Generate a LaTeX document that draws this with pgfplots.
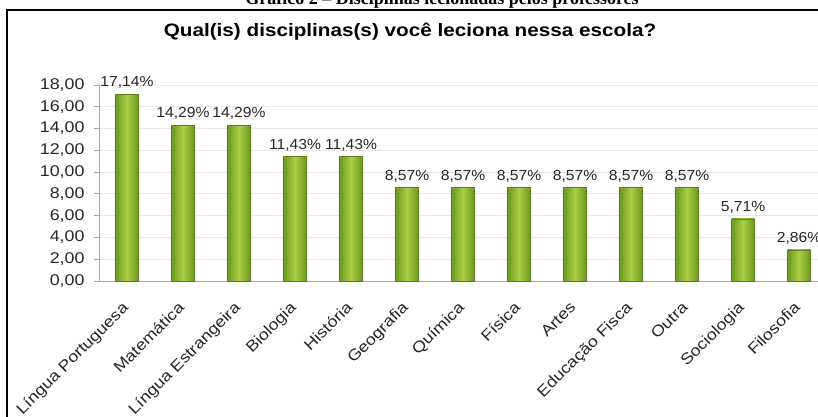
\documentclass[border=0pt]{standalone}
\usepackage{pgfplots}
\usepackage{pgfplotstable}
\pgfplotsset{compat=1.18}
\usepackage{fontspec}
\setmainfont{Liberation Sans}[FakeStretch=1.15]
\newfontfamily\capfont{Liberation Serif}
\newfontfamily\lblfont{Liberation Sans}[FakeStretch=1.08]
\definecolor{barmid}{HTML}{AAD044}
\definecolor{baredge}{HTML}{6A9620}
\definecolor{axgray}{HTML}{A8A8A8}
\definecolor{gridc}{HTML}{E8E8DE}
\pgfplotstableread{
x y
0 17.14
1 14.29
2 14.29
3 11.43
4 11.43
5 8.57
6 8.57
7 8.57
8 8.57
9 8.57
10 8.57
11 5.71
12 2.86
}\datatable
\begin{document}
\begin{tikzpicture}
\useasboundingbox (0,0) rectangle (818pt,416pt);
% caption (cut at top)
\node[anchor=base, font=\capfont\bfseries\fontsize{18}{20}\selectfont] at (442pt,411pt) {Gráfico 2 – Disciplinas lecionadas pelos professores};
% frame
\draw[line width=2pt] (7pt,-20pt) rectangle (840pt,406pt);
% title
\node[anchor=base, font=\bfseries\fontsize{18}{21}\selectfont] at (410pt,379pt) {Qual(is) disciplinas(s) você leciona nessa escola?};
\begin{axis}[
  at={(99pt,135pt)}, anchor=south west,
  scale only axis, width=728pt, height=196pt,
  xmin=-0.5, xmax=12.5, ymin=0, ymax=18,
  ybar, bar width=23pt,
  axis x line*=bottom, axis y line*=left,
  axis line style={axgray, line width=0.8pt},
  ytick={0,2,...,18},
  ymajorgrids, grid style={gridc, line width=0.8pt},
  yticklabel style={font=\fontsize{15.5}{17}\selectfont, color=black!85, xshift=-6pt},
  /pgf/number format/.cd, fixed, precision=2, fixed zerofill, use comma, assume math mode=true,
  /pgfplots/.cd,
  ytick style={axgray, line width=0.8pt},
  tick align=outside, major tick length=5pt,
  xtick={0,...,12},
  xticklabels={Língua Portuguesa, Matemática, Língua Estrangeira, Biologia, História, Geografia, Química, Física, Artes, Educação Fisca, Outra, Sociologia, Filosofia},
  x tick style={draw=none},
  minor xtick={-0.5,0.5,...,12.5},
  minor x tick style={axgray, line width=0.8pt},
  minor tick length=6pt,
  xticklabel style={xshift=-6pt, yshift=-13pt, rotate=45, anchor=north east, font=\fontsize{15.5}{17}\selectfont, color=black!85, inner sep=1pt},
  clip=false,
  nodes near coords={\pgfmathprintnumber[fixed,precision=2,fixed zerofill,use comma]{\pgfplotspointmeta}\%},
  nodes near coords style={font=\lblfont\fontsize{14.5}{16}\selectfont, color=black!85, anchor=south, yshift=2pt},
]
\pgfplotsinvokeforeach{0,...,12}{
\addplot[bar shift=0pt, draw=baredge!85!black, line width=0.5pt, left color=baredge, right color=baredge, middle color=barmid, restrict x to domain=#1:#1] table[x=x, y=y] {\datatable};
}
\end{axis}
\end{tikzpicture}
\end{document}
